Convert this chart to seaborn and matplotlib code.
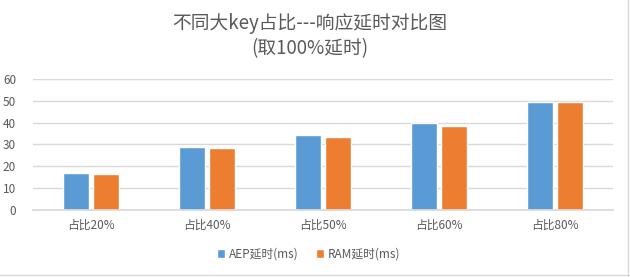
import matplotlib
matplotlib.use("Agg")
import matplotlib.pyplot as plt
import seaborn as sns
import pandas as pd
from matplotlib.lines import Line2D

categories = ["占比20%", "占比40%", "占比50%", "占比60%", "占比80%"]
aep = [17.1, 29.0, 34.3, 40.0, 49.4]
ram = [16.3, 28.2, 33.4, 38.6, 49.4]
series_names = ["AEP延时(ms)", "RAM延时(ms)"]
colors = ["#5B9BD5", "#ED7D31"]

df = pd.DataFrame({
    "cat": categories * 2,
    "val": aep + ram,
    "series": [series_names[0]] * len(categories) + [series_names[1]] * len(categories),
})

sns.set_theme(style="white")
plt.rcParams['font.family'] = ['Noto Sans CJK SC', 'DejaVu Sans']

fig = plt.figure(figsize=(6.3, 2.77), dpi=100)
ax = fig.add_axes([0.052, 0.242, 0.921, 0.473])
sns.barplot(data=df, x="cat", y="val", hue="series", palette=colors,
            width=0.52, gap=0.13, ax=ax, saturation=1, legend=True)

ax.set_ylim(0, 60)
ax.set_yticks(range(0, 61, 10))
ax.set_xlim(-0.5, len(categories) - 0.5)
ax.grid(axis="y", color="#D9D9D9", linewidth=1)
ax.set_axisbelow(True)
for s in ["top", "right", "left"]:
    ax.spines[s].set_visible(False)
ax.spines["bottom"].set_color("#D9D9D9")
ax.set_xlabel("")
ax.set_ylabel("")
ax.tick_params(axis="both", length=0, labelsize=8.5, colors="#595959")
ax.tick_params(axis="y", pad=12)
ax.tick_params(axis="x", pad=6)

handles, labels = ax.get_legend_handles_labels()
ax.get_legend().remove()
leg = fig.legend(handles, labels, loc="center", bbox_to_anchor=(0.49, 0.083), ncol=2,
                 frameon=False, fontsize=8.5, handlelength=0.7, handleheight=0.7,
                 handletextpad=0.3, columnspacing=1.5)
for t in leg.get_texts():
    t.set_color("#595959")

fig.text(0.492, 0.915, "不同大key占比---响应延时对比图", ha="center", va="center",
         fontsize=13.5, color="#595959")
fig.text(0.492, 0.825, "(取100%延时)", ha="center", va="center",
         fontsize=13.5, color="#595959")

fig.add_artist(Line2D([0.997, 0.997], [0.0, 1.0], transform=fig.transFigure,
                      color="#D9D9D9", linewidth=1))
fig.add_artist(Line2D([0.0, 1.0], [0.008, 0.008], transform=fig.transFigure,
                      color="#D9D9D9", linewidth=1))

fig.savefig("out.png", dpi=100, facecolor="white")
